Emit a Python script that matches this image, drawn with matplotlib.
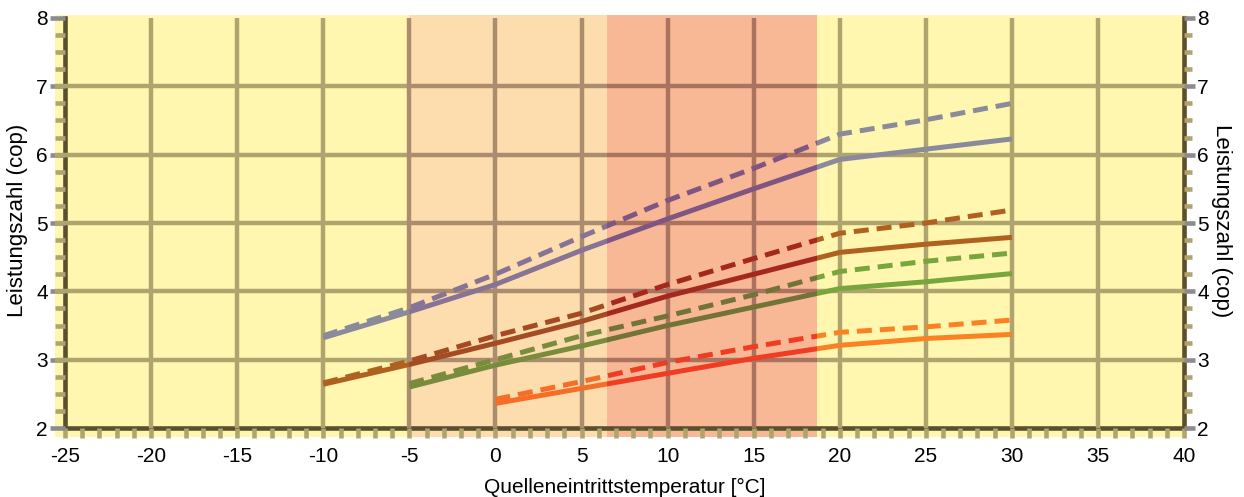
import matplotlib
matplotlib.use("Agg")
import matplotlib.pyplot as plt
from matplotlib.patches import Rectangle
from matplotlib.ticker import MultipleLocator

plt.rcParams['font.family'] = ['Liberation Sans', 'DejaVu Sans']
plt.rcParams['axes.unicode_minus'] = False

# Werte
x_lila = [-10, -5, 0, 5, 10, 15, 20, 25, 30]
lila_voll = [3.32, 3.70, 4.10, 4.60, 5.06, 5.50, 5.93, 6.08, 6.23]
lila_strich = [3.35, 3.76, 4.25, 4.80, 5.33, 5.80, 6.30, 6.51, 6.75]

x_braun = [-10, -5, 0, 5, 10, 15, 20, 25, 30]
braun_voll = [2.64, 2.93, 3.24, 3.56, 3.93, 4.25, 4.57, 4.69, 4.79]
braun_strich = [2.66, 2.98, 3.35, 3.68, 4.10, 4.48, 4.85, 5.00, 5.19]

x_gruen = [-5, 0, 5, 10, 15, 20, 25, 30]
gruen_voll = [2.60, 2.92, 3.20, 3.50, 3.77, 4.04, 4.14, 4.26]
gruen_strich = [2.65, 3.00, 3.35, 3.64, 3.95, 4.29, 4.44, 4.56]

x_orange = [0, 5, 10, 15, 20, 25, 30]
orange_voll = [2.36, 2.58, 2.80, 3.02, 3.21, 3.31, 3.37]
orange_strich = [2.42, 2.68, 2.96, 3.19, 3.40, 3.48, 3.58]

# Bereiche: normal, hell, lachs, normal
bereiche = [(-25.6, -5, 0), (-5, 6.5, 1), (6.5, 18.7, 2), (18.7, 40.2, 0)]
band_farben = {1: '#FDDCAD', 2: '#F8B895'}

farben = {
    'lila': ['#8A8A9C', '#877396', '#7F5582'],
    'braun': ['#B0601F', '#A54B23', '#A5281E'],
    'gruen': ['#78A53C', '#788C3C', '#737337'],
    'orange': ['#FA8223', '#F56E28', '#F03C23'],
}
gitter_farben = ['#B0A46E', '#AA8C6E', '#AA735F']

y_unten = 2 - 9 / 68.33
y_oben = 8 + 3 / 68.33

fig = plt.figure(figsize=(12.44, 4.97), dpi=100)
ax = fig.add_axes([0.0523, 0.1388, 0.8995, 0.825])
ax.set_xlim(-25, 40)
ax.set_ylim(2, 8)
ax.set_facecolor('none')

# Hintergrund und Bänder
ax.add_patch(Rectangle((-25.58, y_unten), 65.75, y_oben - y_unten,
                       facecolor='#FFF7AF', edgecolor='none', zorder=0, clip_on=False))
for x0, x1, t in bereiche:
    if t:
        ax.add_patch(Rectangle((x0, y_unten), x1 - x0, y_oben - y_unten,
                               facecolor=band_farben[t], edgecolor='none',
                               zorder=0.5, clip_on=False))


def clip_rect(x0, x1):
    return Rectangle((x0, -10), x1 - x0, 30, transform=ax.transData)


# Gitter
for y in range(3, 8):
    for x0, x1, t in bereiche:
        l, = ax.plot([-25.58, 40.17], [y, y], color=gitter_farben[t], lw=3.2,
                     solid_capstyle='butt', zorder=4)
        l.set_clip_path(clip_rect(x0, x1))
for x in range(-20, 40, 5):
    t = 0
    for x0, x1, tt in bereiche:
        if x0 <= x < x1:
            t = tt
    ax.plot([x, x], [2, 8], color=gitter_farben[t], lw=3.2,
            solid_capstyle='butt', zorder=4)

# Kurven
serien = [
    (x_lila, lila_voll, lila_strich, 'lila'),
    (x_braun, braun_voll, braun_strich, 'braun'),
    (x_gruen, gruen_voll, gruen_strich, 'gruen'),
    (x_orange, orange_voll, orange_strich, 'orange'),
]
for xs, voll, strich, name in serien:
    for x0, x1, t in bereiche:
        l1, = ax.plot(xs, voll, color=farben[name][t], lw=3.6,
                      solid_capstyle='butt', solid_joinstyle='round', zorder=5)
        l1.set_clip_path(clip_rect(x0, x1))
        l2, = ax.plot(xs, strich, color=farben[name][t], lw=3.6, ls='--',
                      dashes=(3, 1.6), dash_capstyle='butt', zorder=5)
        l2.set_clip_path(clip_rect(x0, x1))

# Achsen
for s in ['left', 'bottom', 'right']:
    ax.spines[s].set_color('#5A5030')
    ax.spines[s].set_linewidth(3.3)
    ax.spines[s].set_zorder(3)
ax.spines['top'].set_visible(False)
ax.xaxis.set_zorder(3.5)
ax.yaxis.set_zorder(3.5)

ax.xaxis.set_major_locator(MultipleLocator(5))
ax.xaxis.set_minor_locator(MultipleLocator(1))
ax.yaxis.set_major_locator(MultipleLocator(1))
ax.yaxis.set_minor_locator(MultipleLocator(0.25))

ax.tick_params(axis='x', which='both', direction='out', length=7, width=3.3,
               color='#B0A46E', labelsize=15, pad=6.5, top=False)
ax.tick_params(axis='y', which='major', direction='out', length=11, width=3.3,
               color='#8C8C8C', labelsize=15, pad=1.5, right=False)
ax.tick_params(axis='y', which='minor', direction='out', length=7, width=3.3,
               color='#B0A46E', right=False)

# rechte Achse
ax2 = ax.twinx()
ax2.set_ylim(2, 8)
for s in ax2.spines.values():
    s.set_visible(False)
ax2.yaxis.set_major_locator(MultipleLocator(1))
ax2.yaxis.set_minor_locator(MultipleLocator(0.25))
ax2.tick_params(axis='y', which='major', direction='out', length=8, width=3.3,
                color='#8C8C8C', labelsize=15, pad=1.5)
ax2.tick_params(axis='y', which='minor', direction='out', length=5.5, width=3.3,
                color='#B0A46E')

ax.set_xlabel('Quelleneintrittstemperatur [°C]', fontsize=15, labelpad=9)
ax.set_ylabel('Leistungszahl (cop)', fontsize=16)
ax.yaxis.set_label_coords(-0.033, 0.507)
fig.text(0.982, 0.557, 'Leistungszahl (cop)', fontsize=16, rotation=270,
         ha='center', va='center')

fig.savefig('out.png', dpi=100)
